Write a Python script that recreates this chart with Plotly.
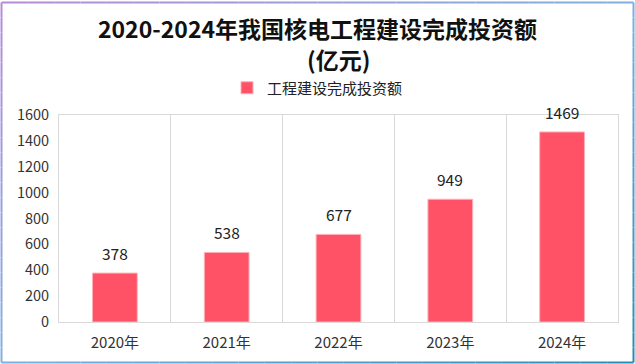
import plotly.graph_objects as go

years = ["2020年", "2021年", "2022年", "2023年", "2024年"]
investment = [378, 538, 677, 949, 1469]
series_name = "工程建设完成投资额"
title_line1 = "2020-2024年我国核电工程建设完成投资额"
title_line2 = "(亿元)"
y_ticks = [0, 200, 400, 600, 800, 1000, 1200, 1400, 1600]

W, H = 635, 364
ML, MR, MT, MB = 59, 17, 115, 42
PW, PH = W - ML - MR, H - MT - MB

FONT = "Noto Sans CJK SC, Microsoft YaHei, sans-serif"

fig = go.Figure()
fig.add_trace(go.Bar(
    x=years, y=investment, name=series_name,
    width=0.4,
    marker=dict(color="#ff5266", line=dict(color="#ffb0b8", width=1)),
))

for x, v in zip(years, investment):
    fig.add_annotation(x=x, y=v, text=str(v), showarrow=False, yshift=20,
                       font=dict(size=15.5, color="#222222", family=FONT))


def px_to_paper_x(px):
    return (px - ML) / PW


def px_to_paper_y(py):
    return (H - MB - py) / PH


fig.add_annotation(xref="paper", yref="paper", x=0.5, y=px_to_paper_y(59),
                   xanchor="center", yanchor="middle", showarrow=False,
                   text="<b>" + title_line2 + "</b>",
                   font=dict(size=23, color="#111111", family=FONT))


def lerp(c1, c2, t):
    a = [int(c1[i:i + 2], 16) for i in (1, 3, 5)]
    b = [int(c2[i:i + 2], 16) for i in (1, 3, 5)]
    return "#" + "".join(f"{round(a[k] + (b[k] - a[k]) * t):02x}" for k in range(3))


purple, lightblue, teal = "#b68ad8", "#7fb0e0", "#2b8ab2"
x0, x1 = px_to_paper_x(1.5), px_to_paper_x(633.5)
y0, y1 = px_to_paper_y(362.5), px_to_paper_y(2.5)
N = 24
shapes = []
for i in range(N):
    t0, t1 = i / N, (i + 1) / N
    tm = (t0 + t1) / 2
    shapes.append(dict(type="line", xref="paper", yref="paper",
                       x0=x0 + (x1 - x0) * t0, x1=x0 + (x1 - x0) * t1, y0=y1, y1=y1,
                       line=dict(color=lerp(purple, lightblue, tm), width=2)))
    shapes.append(dict(type="line", xref="paper", yref="paper",
                       x0=x0 + (x1 - x0) * t0, x1=x0 + (x1 - x0) * t1, y0=y0, y1=y0,
                       line=dict(color=lerp(lightblue, teal, tm), width=2)))
    shapes.append(dict(type="line", xref="paper", yref="paper",
                       x0=x0, x1=x0, y0=y1 - (y1 - y0) * t0, y1=y1 - (y1 - y0) * t1,
                       line=dict(color=lerp(purple, lightblue, tm), width=2)))
    shapes.append(dict(type="line", xref="paper", yref="paper",
                       x0=x1, x1=x1, y0=y1 - (y1 - y0) * t0, y1=y1 - (y1 - y0) * t1,
                       line=dict(color=lerp(lightblue, teal, tm), width=2)))

fig.update_layout(
    width=W, height=H,
    margin=dict(l=ML, r=MR, t=MT, b=MB),
    paper_bgcolor="white", plot_bgcolor="white",
    font=dict(family=FONT, color="#333333"),
    title=dict(text="<b>" + title_line1 + "</b>", x=0.5, xanchor="center",
               y=1 - 30 / H, yanchor="middle",
               font=dict(size=23, color="#111111", family=FONT)),
    showlegend=True,
    legend=dict(orientation="h", x=0.5 - 21 / PW, xanchor="center",
                y=px_to_paper_y(88), yanchor="middle",
                font=dict(size=15, color="#222222", family=FONT),
                itemwidth=30, bgcolor="rgba(0,0,0,0)"),
    xaxis=dict(tickson="boundaries", showgrid=True, gridcolor="#d9d9d9", gridwidth=1,
               showline=True, linecolor="#d9d9d9", mirror=True, ticks="",
               ticklabelstandoff=7,
               tickfont=dict(size=15, color="#333333")),
    yaxis=dict(range=[0, 1600], tickvals=y_ticks, showgrid=False, zeroline=False,
               showline=True, linecolor="#d9d9d9", mirror=True, ticks="",
               ticklabelstandoff=6,
               tickfont=dict(size=14.5, color="#333333")),
    shapes=shapes,
    bargap=0.6,
)

fig.write_html("out.html", config={"displayModeBar": False},
               post_script="document.body.style.margin='0';document.body.style.overflow='hidden';")
